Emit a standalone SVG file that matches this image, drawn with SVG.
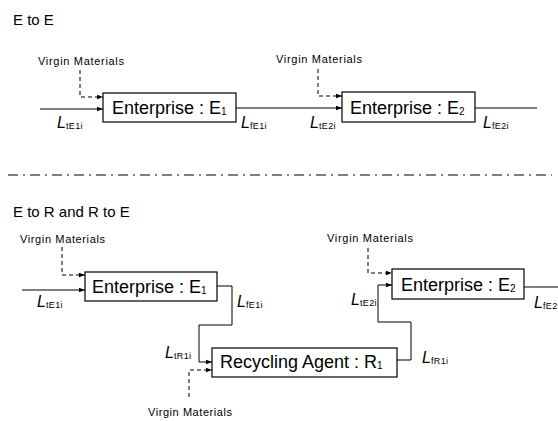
<svg xmlns="http://www.w3.org/2000/svg" width="558" height="421" viewBox="0 0 558 421">
<defs>
<style>
text{font-family:"Liberation Sans",Arial,sans-serif;fill:#000}
.title{font-size:15px}
.vm{font-size:11px}
.box{fill:#fff;stroke:#000;stroke-width:1.2}
.nt{font-size:18px}
.ns{font-size:10px}
.L{font-size:16px;font-style:italic}
.ls{font-size:9px;letter-spacing:0.4px}
.ln{fill:none;stroke:#000;stroke-width:1}
.dl{fill:none;stroke:#000;stroke-width:1;stroke-dasharray:4,3}
.sep{fill:none;stroke:#000;stroke-width:1;stroke-dasharray:10,5,2,5}
</style>
<marker id="a" viewBox="0 0 6 6" refX="6" refY="3" markerWidth="6" markerHeight="6" orient="auto" markerUnits="userSpaceOnUse"><path d="M0,0.8 L6,3 L0,5.2z" fill="#000"/></marker>
</defs>
<rect width="558" height="421" fill="#fff"/>

<text class="title" x="13" y="25">E to E</text>
<text class="title" x="13" y="217">E to R and R to E</text>

<g id="connectors">
<path class="ln" d="M40,109 H103" marker-end="url(#a)"/>
<path class="dl" d="M80,70 V97 H103" marker-end="url(#a)"/>
<path class="ln" d="M236,108 H342" marker-end="url(#a)"/>
<path class="dl" d="M318,69 V96 H342" marker-end="url(#a)"/>
<path class="ln" d="M475,108 H537"/>
<path class="sep" d="M8,175 H552"/>
<path class="ln" d="M22,290 H85" marker-end="url(#a)"/>
<path class="dl" d="M62,247 V275 H85" marker-end="url(#a)"/>
<path class="ln" d="M217,286 H232 V325 H199 V362 H212" marker-end="url(#a)"/>
<path class="dl" d="M189,397 V370 H212" marker-end="url(#a)"/>
<path class="ln" d="M397,360 H411 V322 H378 V285 H392" marker-end="url(#a)"/>
<path class="dl" d="M368,248 V273 H392" marker-end="url(#a)"/>
<path class="ln" d="M524,287 H558"/>
</g>

<g id="labels">
<text class="vm" x="38" y="65" textLength="86">Virgin Materials</text>
<text class="vm" x="276" y="63" textLength="86">Virgin Materials</text>
<text class="vm" x="20" y="243" textLength="85">Virgin Materials</text>
<text class="vm" x="327" y="242" textLength="86">Virgin Materials</text>
<text class="vm" x="148" y="416" textLength="84">Virgin Materials</text>

<text x="57" y="128"><tspan class="L">L</tspan><tspan class="ls" dy="1">tE1i</tspan></text>
<text x="241" y="128"><tspan class="L">L</tspan><tspan class="ls" dy="1">fE1i</tspan></text>
<text x="310" y="128"><tspan class="L">L</tspan><tspan class="ls" dy="1">tE2i</tspan></text>
<text x="483" y="128"><tspan class="L">L</tspan><tspan class="ls" dy="1">fE2i</tspan></text>

<text x="37" y="307"><tspan class="L">L</tspan><tspan class="ls" dy="1">tE1i</tspan></text>
<text x="237" y="307"><tspan class="L">L</tspan><tspan class="ls" dy="1">fE1i</tspan></text>
<text x="351" y="305"><tspan class="L">L</tspan><tspan class="ls" dy="1">tE2i</tspan></text>
<text x="534" y="308"><tspan class="L">L</tspan><tspan class="ls" dy="1">fE2i</tspan></text>
<text x="165" y="358"><tspan class="L">L</tspan><tspan class="ls" dy="1">tR1i</tspan></text>
<text x="422" y="363"><tspan class="L">L</tspan><tspan class="ls" dy="1">fR1i</tspan></text>
</g>

<g id="E1-top">
<rect class="box" x="103" y="93" width="133" height="29"/>
<text x="112" y="114"><tspan class="nt">Enterprise : E</tspan><tspan class="ns" dy="1">1</tspan></text>
</g>
<g id="E2-top">
<rect class="box" x="342" y="92" width="133" height="30"/>
<text x="350" y="114"><tspan class="nt">Enterprise : E</tspan><tspan class="ns" dy="1">2</tspan></text>
</g>
<g id="E1-bottom">
<rect class="box" x="85" y="272" width="132" height="29"/>
<text x="92" y="293"><tspan class="nt">Enterprise : E</tspan><tspan class="ns" dy="1">1</tspan></text>
</g>
<g id="E2-bottom">
<rect class="box" x="392" y="269" width="132" height="30"/>
<text x="401" y="291"><tspan class="nt">Enterprise : E</tspan><tspan class="ns" dy="1">2</tspan></text>
</g>
<g id="R1">
<rect class="box" x="212" y="348" width="185" height="29"/>
<text x="220" y="368"><tspan class="nt">Recycling Agent : R</tspan><tspan class="ns" dy="1">1</tspan></text>
</g>
</svg>
